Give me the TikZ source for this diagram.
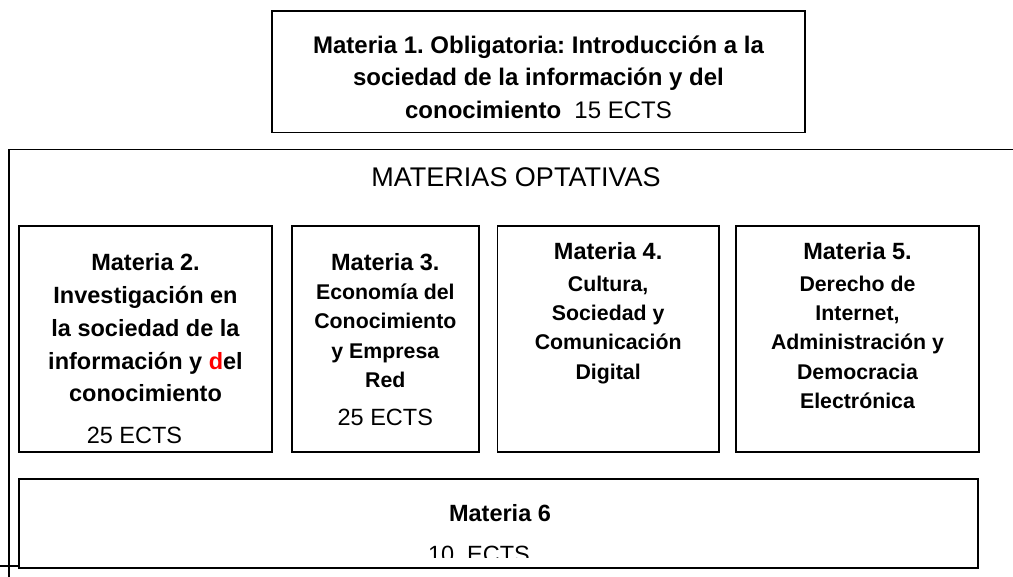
\documentclass[tikz,border=0pt]{standalone}
\usepackage{fontspec}
\setmainfont{Liberation Sans}
\usetikzlibrary{positioning}
\frenchspacing

\begin{document}
\begin{tikzpicture}[
  x=1pt, y=-1pt,
  line width=1.6pt,
  box/.style={draw, rectangle, inner sep=0pt, outer sep=0pt, minimum height=226pt, anchor=north west},
  mhead/.style={font=\bfseries\fontsize{23.5}{32.8}\selectfont, align=center, inner sep=0pt},
  msub/.style={font=\bfseries\fontsize{21.3}{29.4}\selectfont, align=center, inner sep=0pt},
  ects/.style={font=\fontsize{23.5}{28}\selectfont, inner sep=0pt}
]
\useasboundingbox (0,0) rectangle (1013,577);

% Compulsory subject on top
\node[draw, inner sep=0pt, outer sep=0pt, minimum width=533pt, minimum height=121.5pt, anchor=north west] (m1) at (272,11) {};
\node[font=\bfseries\fontsize{24}{32.5}\selectfont, align=center, inner sep=0pt, below=24pt of m1.north] (m1text)
  {Materia 1. Obligatoria: Introducción a la\\
   sociedad de la información y del\\
   conocimiento~ {\mdseries 15 ECTS}};

% Frame of the optional subjects
\coordinate (frame-nw) at (9,149.5);
\draw (1013,149.5) -- (frame-nw) -- (9,577);
\node[font=\fontsize{27}{30}\selectfont, inner sep=0pt, anchor=base] (opt) at (516,186.7) {MATERIAS OPTATIVAS};

% Row of optional subjects
\node[box, minimum width=253pt] (m2) at (19,226) {};
\node[box, minimum width=187.3pt, right=19.7pt of m2.north east, anchor=north west] (m3) {};
\node[box, minimum width=221.7pt, right=18.3pt of m3.north east, anchor=north west] (m4) {};
\node[box, minimum width=243pt, right=17pt of m4.north east, anchor=north west] (m5) {};

\node[mhead, below=26.9pt of m2.north] (m2text)
  {Materia 2.\\ Investigación en\\ la sociedad de la\\ información y \textcolor{red}{d}el\\ conocimiento};
\node[ects, above=8.3pt of m2.south, anchor=base, xshift=-11pt] (m2ects) {25 ECTS};

\node[msub, below=26.9pt of m3.north] (m3text)
  {{\fontsize{23.5}{29.4}\selectfont Materia 3.}\\[-0.8pt] Economía del\\ Conocimiento\\ y Empresa\\ Red};
\node[ects, above=26pt of m3.south, anchor=base] (m3ects) {25 ECTS};

\node[msub, below=15.7pt of m4.north] (m4text)
  {{\fontsize{23.5}{29.4}\selectfont Materia 4.}\\[2.1pt] Cultura,\\ Sociedad y\\ Comunicación\\ Digital};

\node[msub, below=15.7pt of m5.north] (m5text)
  {{\fontsize{23.5}{29.4}\selectfont Materia 5.}\\[2.1pt] Derecho de\\ Internet,\\ Administración y\\ Democracia\\ Electrónica};

% Bottom subject
\node[box, minimum width=959pt, minimum height=88.4pt] (m6) at (19,479.3) {};
\node[mhead, anchor=base] (m6text) at ([xshift=1.5pt, yshift=-42.2pt]m6.north) {Materia 6};
\begin{scope}
  \clip (19,479.3) rectangle (978,557.3);
  \node[ects, anchor=base] (m6ects) at (479,562) {10\ \ ECTS};
\end{scope}

% little stub at the lower left
\coordinate (stub) at (0,566);
\draw (stub) -- (stub -| m6.west);

\end{tikzpicture}
\end{document}
